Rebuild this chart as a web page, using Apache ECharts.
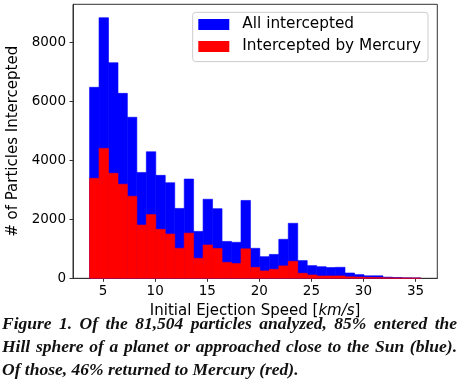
<!DOCTYPE html>
<html><head><meta charset="utf-8">
<script src="https://cdn.jsdelivr.net/npm/echarts@6/dist/echarts.min.js"></script>
<style>html,body{margin:0;padding:0;background:#fff}#c{width:459px;height:389px}</style>
</head><body><div id="c"></div>
<script>
// Histogram bin edges (km/s)
const binEdges = [3.70, 4.61, 5.52, 6.43, 7.33, 8.24, 9.15, 10.06, 10.97, 11.88, 12.79, 13.69,
  14.60, 15.51, 16.42, 17.33, 18.24, 19.15, 20.05, 20.96, 21.87, 22.78, 23.69, 24.60, 25.51,
  26.42, 27.32, 28.23, 29.14, 30.05, 30.96, 31.87, 32.78, 33.68, 34.59, 35.50];
// Counts per bin
const allIntercepted = [6475, 8835, 7310, 6270, 5460, 3590, 4290, 3490, 3240, 2370, 3365, 1590,
  2680, 2360, 1250, 1220, 2640, 1017, 733, 810, 1322, 1865, 600, 430, 393, 365, 373, 180, 125,
  85, 85, 40, 28, 15, 12];
const byMercury = [3390, 4405, 3560, 3190, 2780, 1805, 2160, 1660, 1500, 1017, 1530, 678,
  1130, 1010, 540, 500, 1000, 370, 250, 305, 420, 575, 170, 112, 78, 78, 78, 50, 40,
  30, 25, 15, 10, 6, 5];
const xTicks = [5, 10, 15, 20, 25, 30, 35];
const yTicks = [0, 2000, 4000, 6000, 8000];
const seriesNames = ['All intercepted', 'Intercepted by Mercury'];
const captionLines = [
  'Figure 1. Of the 81,504 particles analyzed, 85% entered the',
  'Hill sphere of a planet or approached close to the Sun (blue).',
  'Of those, 46% returned to Mercury (red).'
];
const captionJustify = [true, true, false];

function toItems(vals) { return vals.map((v, i) => [binEdges[i], binEdges[i + 1], v]); }
function renderBar(params, api) {
  const p0 = api.coord([api.value(0), api.value(2)]);
  const p1 = api.coord([api.value(1), 0]);
  const c = api.visual('color');
  return { type: 'rect', shape: { x: p0[0], y: p0[1], width: p1[0] - p0[0], height: p1[1] - p0[1] },
    style: { fill: c, stroke: c, lineWidth: 0.6 } };
}
const font = 'DejaVu Sans';

// caption: full lines justified to ~455px
const capFs = 17.5;
const ctx = document.createElement('canvas').getContext('2d');
ctx.font = 'italic bold ' + capFs + 'px "Liberation Serif"';
const capStyle = { fontFamily: 'Liberation Serif', fontStyle: 'italic', fontWeight: 'bold',
  fontSize: capFs, fill: '#111' };
const captionGraphics = captionLines.map((t, i) => {
  const el = { type: 'text', left: 2, top: 315 + i * 23, style: Object.assign({}, capStyle) };
  if (captionJustify[i]) {
    const words = t.split(' ');
    const natural = ctx.measureText(words.join('')).width;
    const sp = (455 - natural) / (words.length - 1);
    el.style.text = words.map(w => '{w|' + w + '}').join('{s| }');
    el.style.rich = { w: Object.assign({}, capStyle), s: Object.assign({ width: sp }, capStyle) };
  } else {
    el.style.text = t;
  }
  return el;
});

const chart = echarts.init(document.getElementById('c'), null, { renderer: 'canvas' });
chart.setOption({
  animation: false,
  backgroundColor: '#fff',
  graphic: captionGraphics,
  grid: { left: 73, top: 4.3, right: 21.7, bottom: 110.7, show: true, borderColor: '#333',
    borderWidth: 1, backgroundColor: 'transparent', outerBoundsMode: 'none' },
  legend: {
    orient: 'vertical', left: 192.7, top: 12.3, padding: [4.7, 7, 7.6, 5.6], itemGap: 7,
    itemWidth: 31, itemHeight: 11, icon: 'rect',
    backgroundColor: 'rgba(255,255,255,0.8)', borderColor: '#ccc', borderWidth: 1, borderRadius: 3,
    textStyle: { fontFamily: font, fontSize: 15.3, color: '#000', padding: [0, 0, 0, 8] },
    data: seriesNames
  },
  xAxis: {
    type: 'value', min: 2.11, max: 37.09,
    name: '{a|Initial Ejection Speed [}{i|km/s}{a|]}', nameLocation: 'middle', nameGap: 23,
    nameTextStyle: { rich: { a: { fontFamily: font, fontSize: 15, color: '#000' },
      i: { fontFamily: font, fontSize: 15, fontStyle: 'italic', color: '#000' } } },
    axisLine: { show: true, lineStyle: { color: '#333' } },
    axisTick: { show: true, length: 3.5, lineStyle: { color: '#333' }, customValues: xTicks },
    axisLabel: { fontFamily: font, fontSize: 13.5, color: '#000', margin: 6, customValues: xTicks },
    splitLine: { show: false }
  },
  yAxis: {
    type: 'value', min: 0, max: 9290,
    name: '# of Particles Intercepted', nameLocation: 'middle', nameGap: 34,
    nameTextStyle: { fontFamily: font, fontSize: 15, color: '#000' },
    axisLine: { show: true, lineStyle: { color: '#333' } },
    axisTick: { show: true, length: 3.5, lineStyle: { color: '#333' }, customValues: yTicks },
    axisLabel: { fontFamily: font, fontSize: 13.5, color: '#000', margin: 7, customValues: yTicks,
      formatter: v => String(v) },
    splitLine: { show: false }
  },
  series: [
    { name: seriesNames[0], type: 'custom', renderItem: renderBar, itemStyle: { color: '#0000ff' },
      encode: { x: [0, 1], y: 2 }, data: toItems(allIntercepted), z: 2 },
    { name: seriesNames[1], type: 'custom', renderItem: renderBar, itemStyle: { color: '#ff0000' },
      encode: { x: [0, 1], y: 2 }, data: toItems(byMercury), z: 3 }
  ]
});
</script></body></html>
